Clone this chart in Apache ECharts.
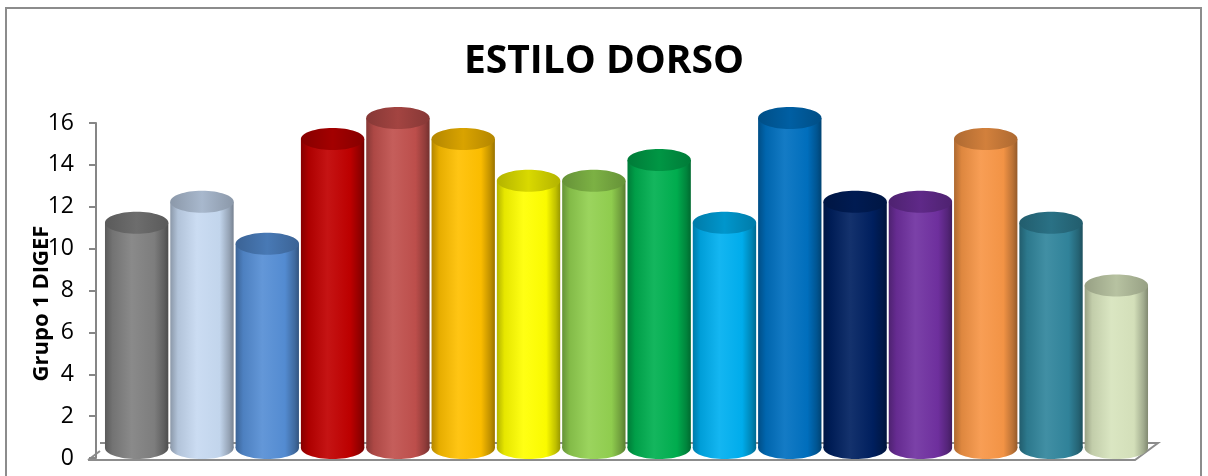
<!DOCTYPE html>
<html><head><meta charset="utf-8">
<script src="https://cdn.jsdelivr.net/npm/echarts@6/dist/echarts.min.js"></script>
<style>html,body{margin:0;padding:0;background:#fff}#c{width:1208px;height:476px}</style>
</head><body><div id="c"></div>
<script>
const title = 'ESTILO DORSO';
const yName = 'Grupo 1 DIGEF';
const categories = ['1','2','3','4','5','6','7','8','9','10','11','12','13','14','15','16'];
const values = [11, 12, 10, 15, 16, 15, 13, 13, 14, 11, 16, 12, 12, 15, 11, 8];
const colors = ['#808080','#c6d9f1','#558ed5','#c00000','#c0504d','#ffc000','#ffff00','#92d050','#00b050','#00b0f0','#0070c0','#002060','#7030a0','#f79646','#31859c','#d7e4bd'];
const yTicks = [0, 2, 4, 6, 8, 10, 12, 14, 16];

function shade(hex, f) {
  let r = parseInt(hex.slice(1,3),16), g = parseInt(hex.slice(3,5),16), b = parseInt(hex.slice(5,7),16);
  if (f < 0) { r = r*(1+f); g = g*(1+f); b = b*(1+f); }
  else { r = r + (255-r)*f; g = g + (255-g)*f; b = b + (255-b)*f; }
  return 'rgb(' + Math.round(r) + ',' + Math.round(g) + ',' + Math.round(b) + ')';
}
function bodyGrad(c) {
  return new echarts.graphic.LinearGradient(0,0,1,0,[
    {offset:0, color: shade(c,-0.3)},
    {offset:0.12, color: shade(c,-0.1)},
    {offset:0.42, color: shade(c,0.08)},
    {offset:0.78, color: shade(c,-0.02)},
    {offset:0.93, color: shade(c,-0.25)},
    {offset:1, color: shade(c,-0.4)}
  ]);
}

const chart = echarts.init(document.getElementById('c'));
chart.setOption({
  animation: false,
  title: { text: title, left: 'center', top: 37,
    textStyle: { fontFamily: 'Open Sans', fontWeight: 'bold', fontSize: 39, color: '#000' } },
  grid: { left: 104, right: 59, top: 123, bottom: 18 },
  xAxis: { type: 'category', data: categories, axisLine: { show: false }, axisTick: { show: false }, axisLabel: { show: false } },
  yAxis: {
    type: 'value', min: 0, max: 16, interval: 2, offset: 8,
    name: yName, nameLocation: 'middle', nameGap: 43, nameRotate: 90, nameMoveOverlap: false,
    nameTextStyle: { fontFamily: 'Open Sans', fontWeight: 'bold', fontSize: 22, color: '#000', padding: [0, 26, 0, 0] },
    axisLine: { show: true, lineStyle: { color: '#868686', width: 2 } },
    axisTick: { show: true, length: 7, lineStyle: { color: '#868686', width: 2 } },
    axisLabel: { margin: 22, fontFamily: 'Open Sans', fontSize: 23, color: '#000',
      formatter: v => yTicks.includes(v) ? String(v) : '' },
    splitLine: { show: false }
  },
  graphic: [
    { type: 'rect', shape: { x: 6, y: 8, width: 1195, height: 480 }, style: { fill: 'none', stroke: '#8c8c8c', lineWidth: 2 }, z: 100 },
    { type: 'polyline', shape: { points: [[88,460],[1135,460],[1158,443],[100,443]] }, style: { fill: 'none', stroke: '#8c8c8c', lineWidth: 2 }, z: 0 },
    { type: 'line', shape: { x1: 88, y1: 460, x2: 100, y2: 451 }, style: { stroke: '#8c8c8c', lineWidth: 2 }, z: 0 }
  ],
  series: [{
    type: 'custom',
    data: values.map((v,i) => [i, v]),
    z: 5,
    renderItem: function (params, api) {
      const i = api.value(0);
      const top = api.coord([i, api.value(1)]);
      const base = api.coord([i, 0]);
      const w = api.size([1, 0])[0] * 0.97;
      const rx = w / 2, ry = 11;
      const cx = top[0];
      const ty = top[1] - 5;
      const by = base[1] - 10;
      const c = colors[params.dataIndex];
      const g = bodyGrad(c);
      return {
        type: 'group',
        children: [
          { type: 'ellipse', shape: { cx: cx, cy: by, rx: rx, ry: ry }, style: { fill: g } },
          { type: 'rect', shape: { x: cx - rx, y: ty, width: w, height: by - ty }, style: { fill: g } },
          { type: 'ellipse', shape: { cx: cx, cy: ty, rx: rx, ry: ry },
            style: { fill: new echarts.graphic.LinearGradient(0,0,1,0,[
              {offset:0, color: shade(c,-0.3)}, {offset:0.5, color: shade(c,-0.15)}, {offset:1, color: shade(c,-0.3)}]) } }
        ]
      };
    }
  }]
});
</script></body></html>
